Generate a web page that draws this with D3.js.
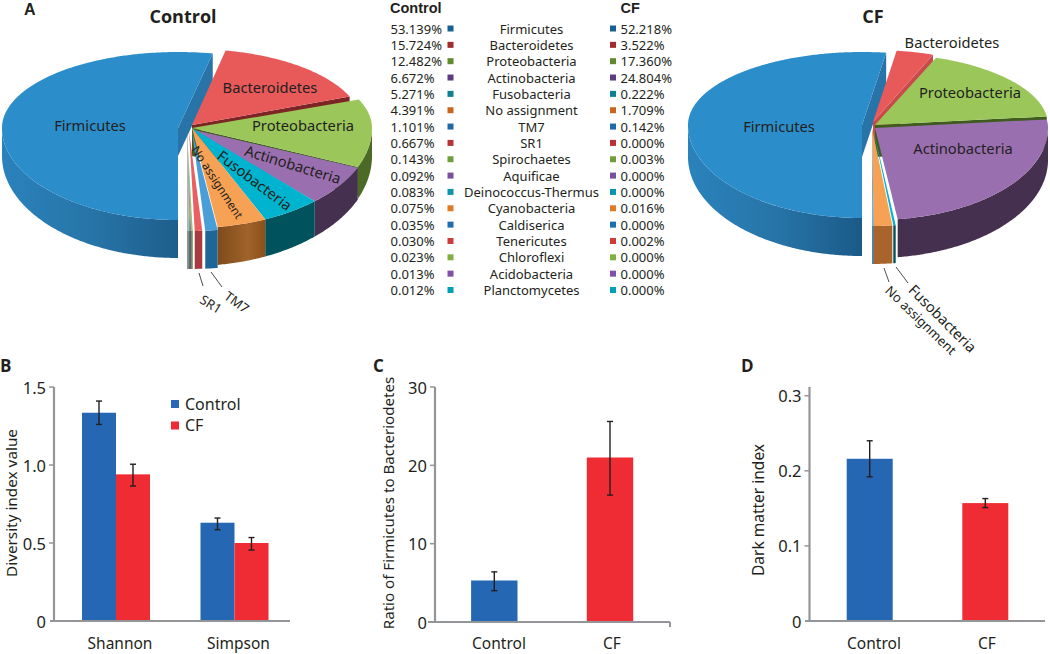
<!DOCTYPE html>
<html><head><meta charset="utf-8">
<script src="https://cdn.jsdelivr.net/npm/d3@7"></script>
<style>
html,body{margin:0;padding:0;background:#fff}
svg{display:block}
text{font-family:"Noto Sans",sans-serif;fill:#231f20}
</style></head><body>
<svg id="chart" width="1050" height="654"></svg>
<script>
// ---------- data ----------
const taxa = ["Firmicutes","Bacteroidetes","Proteobacteria","Actinobacteria","Fusobacteria","No assignment","TM7","SR1","Spirochaetes","Aquificae","Deinococcus-Thermus","Cyanobacteria","Caldiserica","Tenericutes","Chloroflexi","Acidobacteria","Planctomycetes"];
const controlPct = [53.139,15.724,12.482,6.672,5.271,4.391,1.101,0.667,0.143,0.092,0.083,0.075,0.035,0.030,0.023,0.013,0.012];
const cfPct = [52.218,3.522,17.360,24.804,0.222,1.709,0.142,0.000,0.003,0.000,0.000,0.016,0.000,0.002,0.000,0.000,0.000];
const markerColors = ["#17608f","#a02b30","#5e8a30","#5e3a80","#0f8090","#c8661e","#1d6aa5","#b83236","#6f9e3a","#7a509c","#0e94a8","#e07a24","#1f6eb0","#cc3a3a","#82b040","#8050a5","#00a0b8"];
const topColors = ["#2b8ecb","#e85a5a","#9bc75a","#9a6fb0","#00b4cf","#f7a154","#4a9ed8","#ea5f62","#9bc75a","#9a6fb0","#20b0c8","#f7a154","#4a9ed8","#e85a5a","#9bc75a","#9a6fb0","#00b4cf"];
const wallColors = ["#236e9f","#7d2424","#4b6a26","#46304f","#00525c","#8d5220","#1f6596","#a83a40","#6a8a3a","#6a4a80","#107080","#a06a30","#1f6596","#a83a40","#6a8a3a","#6a4a80","#107080"];

const diversityGroups = ["Shannon","Simpson"];
const diversitySeries = ["Control","CF"];
const diversityControl = [1.335,0.63];
const diversityControlLow = [1.26,0.585];
const diversityControlHigh = [1.41,0.66];
const diversityCF = [0.94,0.50];
const diversityCFLow = [0.865,0.455];
const diversityCFHigh = [1.005,0.535];
const diversityTicks = [0,0.5,1.0,1.5];
const diversityTickLabels = ["0","0.5","1.0","1.5"];

const groupNames = ["Control","CF"];
const ratioValues = [5.3,21];
const ratioLow = [4.0,16.2];
const ratioHigh = [6.4,25.6];
const ratioTicks = [0,10,20,30];

const darkValues = [0.216,0.157];
const darkLow = [0.192,0.151];
const darkHigh = [0.24,0.163];
const darkTicks = [0,0.1,0.2,0.3];
const darkTickLabels = ["0","0.1","0.2","0.3"];

// ---------- helpers ----------
const svg = d3.select("#chart");
const INK = "#231f20", AXIS = "#939598", BLUE = "#2567b3", RED = "#ef2b33";
const defs = svg.append("defs");
function addGrad(id, x1, x2, stops){
  const g = defs.append("linearGradient").attr("id",id).attr("gradientUnits","userSpaceOnUse")
    .attr("x1",x1).attr("x2",x2).attr("y1",0).attr("y2",0);
  stops.forEach(s=>g.append("stop").attr("offset",s[0]).attr("stop-color",s[1]));
}
const lineGen = d3.line();

function drawPie(cfg){
  const g = svg.append("g");
  const arcs = d3.pie().sort(null).startAngle(Math.PI).endAngle(3*Math.PI)(cfg.values);
  arcs.forEach((a,i)=>{
    if(a.value<=0) return;
    const name = taxa[i];
    const o = Object.assign({dx:0,dy:0,rx:cfg.rx,ryT:cfg.ryT,ryB:cfg.ryB}, cfg.slice[name]||(i>7?cfg.tiny:{})||{});
    const cx = cfg.cx+o.dx, cy = cfg.cy+o.dy;
    const dp = t => cfg.dBack + (cfg.dFront-cfg.dBack)*Math.max(0,-Math.cos(t));
    const pt = t => [cx+o.rx*Math.sin(t), cy-(Math.cos(t)>0?o.ryT:o.ryB)*Math.cos(t)];
    const n = Math.max(2,Math.ceil((a.endAngle-a.startAngle)/0.01));
    const ang = d3.range(n+1).map(k=>a.startAngle+(a.endAngle-a.startAngle)*k/n);
    // radial face of the slice's far edge
    const e = a.endAngle, pe = pt(e), de = cfg.dBack+(o.faceExtra||0);
    if(Math.sin(e)>0 && Math.cos(e)>-0.6 || name==="Firmicutes"){
      g.append("path").attr("d",lineGen([[cx,cy],pe,[pe[0],pe[1]+de],[cx,cy+de]])+"Z")
        .attr("fill",cfg.face[name]||wallColors[i]);
    }
    // outer wall, only the front half of the rim
    const lo = Math.max(a.startAngle,Math.PI/2), hi = Math.min(a.endAngle,Math.PI*1.5);
    const lo2 = Math.max(a.startAngle,Math.PI/2+2*Math.PI), hi2 = Math.min(a.endAngle,Math.PI*1.5+2*Math.PI);
    [[lo,hi],[lo2,hi2]].forEach(([l,h])=>{
      if(h<=l) return;
      const m = Math.max(2,Math.ceil((h-l)/0.01));
      const th = d3.range(m+1).map(k=>l+(h-l)*k/m);
      const up = th.map(pt), down = th.map(t=>{const p=pt(t);return [p[0],p[1]+dp(t)];}).reverse();
      g.append("path").attr("d",lineGen(up.concat(down))+"Z")
        .attr("fill",(cfg.wall&&cfg.wall[name])||wallColors[i]);
    });
    // top surface
    const pts = [[cx,cy]].concat(ang.map(pt));
    g.append("path").attr("d",lineGen(pts)+"Z").attr("fill",topColors[i]);
  });
  cfg.labels.forEach(l=>{
    g.append("text").attr("transform",`translate(${l.x},${l.y}) rotate(${l.r||0})`)
      .attr("text-anchor","middle").attr("dominant-baseline","central")
      .attr("font-size",l.s).text(l.t);
  });
  cfg.leaders.forEach(l=>{
    g.append("path").attr("d",lineGen([[l[0],l[1]],[l[2],l[3]]])).attr("stroke",INK).attr("stroke-width",0.8).attr("fill","none");
  });
}

addGrad("wallC",2,178,[[0,"#2a82bc"],[0.5,"#2775a8"],[1,"#1d5e8c"]]);
addGrad("wallF",688,862,[[0,"#2a82bc"],[0.5,"#2775a8"],[1,"#1a5a88"]]);
addGrad("wallN",217,268,[[0,"#7e4a1a"],[0.6,"#a0632a"],[1,"#8a4c18"]]);

// ---------- A: control pie ----------
drawPie({
  values:controlPct, cx:192, cy:128, rx:180, ryT:76, ryB:100, dBack:28, dFront:38,
  slice:{Firmicutes:{dx:-14,rx:176,ryB:92},Bacteroidetes:{dy:-3,rx:170,faceExtra:-22},Actinobacteria:{dy:1.5,ryB:98},TM7:{dy:3},SR1:{dx:-3,dy:3}},
  tiny:{dx:-5,dy:3},
  face:{Firmicutes:"#2874a8",Bacteroidetes:"#7d2424",Proteobacteria:"#3f5c1e",Actinobacteria:"#46304f",Fusobacteria:"#00525c"},
  wall:{Firmicutes:"url(#wallC)","No assignment":"url(#wallN)"},
  labels:[
    {t:"Firmicutes",x:90,y:125,s:14.7},
    {t:"Bacteroidetes",x:270,y:87,s:14.7},
    {t:"Proteobacteria",x:303,y:125,s:14.7},
    {t:"Actinobacteria",x:293,y:164,r:17,s:14.7},
    {t:"Fusobacteria",x:255,y:180,r:37,s:14.7},
    {t:"No assignment",x:218,y:182,r:57,s:11.8},
    {t:"TM7",x:237,y:302,r:36,s:13},
    {t:"SR1",x:211,y:304,r:32,s:13}
  ],
  leaders:[[199,273,203,286],[211,272,222,287]]
});

// ---------- A: CF pie ----------
drawPie({
  values:cfPct, cx:875, cy:125, rx:173, ryT:72, ryB:98, dBack:32, dFront:38,
  slice:{Firmicutes:{dx:-13,rx:174,ryT:73,ryB:93},Bacteroidetes:{dx:-2,dy:-3,rx:170},Actinobacteria:{dy:3,ryB:92},"No assignment":{dx:-3,dy:3},Fusobacteria:{dy:3,dx:-2},TM7:{dx:-3,dy:3}},
  tiny:{dx:-3,dy:3},
  face:{Firmicutes:"#2874a8",Bacteroidetes:"#c84a4a",Proteobacteria:"#3f5c1e",Actinobacteria:"#46304f"},
  wall:{Firmicutes:"url(#wallF)","No assignment":"#a8642a"},
  labels:[
    {t:"Firmicutes",x:779,y:126,s:14.7},
    {t:"Bacteroidetes",x:952,y:42,s:14.7},
    {t:"Proteobacteria",x:970,y:92,s:14.7},
    {t:"Actinobacteria",x:963,y:148,s:14.7},
    {t:"Fusobacteria",x:943,y:318,r:45,s:14.7},
    {t:"No assignment",x:921,y:320,r:44,s:13}
  ],
  leaders:[[896,267,908,283],[884,268,889,282]]
});

// ---------- panel letters & titles ----------
function bold(t,x,y,s,anchor,face){
  svg.append("text").attr("x",x).attr("y",y).attr("font-size",s).attr("font-weight",700)
    .attr("text-anchor",anchor||"start").style("font-family",face||"'Open Sans',sans-serif").text(t);
}
const SANS = "'Liberation Sans',sans-serif";
bold("A",24,15,16,"start",SANS); bold("B",0,372,17); bold("C",373,372,17); bold("D",741,372,17);
bold("Control",183,23,18,"middle"); bold("CF",873,23,18,"middle");

// ---------- table ----------
const rowY = d3.scalePoint().domain(taxa).range([28.5,290]);
const table = svg.append("g");
bold("Control",390,13.3,14.5,"start",SANS); bold("CF",620.5,13.3,14.5,"start",SANS);
const fmt = d3.format(".3f");
taxa.forEach((t,i)=>{
  const y = rowY(t);
  table.append("text").attr("x",390.5).attr("y",y).attr("dominant-baseline","central").attr("font-size",13).text(fmt(controlPct[i])+"%");
  table.append("rect").attr("x",447.5).attr("y",y-3).attr("width",6).attr("height",6).attr("fill",markerColors[i]);
  table.append("text").attr("x",531.5).attr("y",y).attr("text-anchor","middle").attr("dominant-baseline","central").attr("font-size",13).text(t);
  table.append("rect").attr("x",610).attr("y",y-3).attr("width",6).attr("height",6).attr("fill",markerColors[i]);
  table.append("text").attr("x",620.5).attr("y",y).attr("dominant-baseline","central").attr("font-size",13).text(fmt(cfPct[i])+"%");
});

// ---------- bar helpers ----------
function yAxis(x, y, ticks, labels, x2, x0, topY, bottomY){
  const g = svg.append("g");
  g.append("path").attr("d",lineGen([[x,topY],[x,bottomY]])).attr("stroke",AXIS).attr("stroke-width",2.2).attr("fill","none");
  g.append("path").attr("d",lineGen([[x0,bottomY],[x2,bottomY]])).attr("stroke",AXIS).attr("stroke-width",2.2).attr("fill","none");
  ticks.forEach((v,i)=>{
    if(v!==ticks[0]) g.append("path").attr("d",lineGen([[x-5,y(v)],[x,y(v)]])).attr("stroke",AXIS).attr("stroke-width",1.5);
    g.append("text").attr("x",x-8).attr("y",y(v)).attr("text-anchor","end").attr("dominant-baseline","central").attr("font-size",16.5).text(labels[i]);
  });
}
function errBar(cx,y,lo,hi){
  const g = svg.append("g").attr("stroke",INK).attr("stroke-width",1.4).attr("fill","none");
  g.append("path").attr("d",lineGen([[cx,y(lo)],[cx,y(hi)]]));
  g.append("path").attr("d",lineGen([[cx-3,y(lo)],[cx+3,y(lo)]]));
  g.append("path").attr("d",lineGen([[cx-3,y(hi)],[cx+3,y(hi)]]));
}
function yTitle(t,x,y,s){
  svg.append("text").attr("transform",`translate(${x},${y}) rotate(-90)`).attr("text-anchor","middle")
    .attr("dominant-baseline","central").attr("font-size",s).text(t);
}
function xLabel(t,x){
  svg.append("text").attr("x",x).attr("y",649.4).attr("text-anchor","middle").attr("font-size",15.5).text(t);
}

// ---------- B ----------
const yB = d3.scaleLinear().domain([0,1.5]).range([621,387]);
const xB = d3.scaleBand().domain(diversityGroups).range([56.75,293.75]);
const xBi = d3.scaleBand().domain(diversitySeries).range([-34,34]);
diversityGroups.forEach((g,i)=>{
  const c = xB(g)+xB.bandwidth()/2;
  [[diversityControl,diversityControlLow,diversityControlHigh,"Control",BLUE],[diversityCF,diversityCFLow,diversityCFHigh,"CF",RED]].forEach(([v,lo,hi,s,col])=>{
    svg.append("rect").attr("x",c+xBi(s)).attr("width",xBi.bandwidth()).attr("y",yB(v[i])).attr("height",yB(0)-yB(v[i])).attr("fill",col);
    errBar(c+xBi(s)+xBi.bandwidth()/2,yB,lo[i],hi[i]);
  });
  xLabel(g,c+4);
});
yAxis(54,yB,diversityTicks,diversityTickLabels,290,50,387,621);
yTitle("Diversity index value",10.5,503,15.3);
diversitySeries.forEach((s,i)=>{
  const ly = 404+i*21.5;
  svg.append("rect").attr("x",171).attr("y",ly-4).attr("width",8).attr("height",8).attr("fill",i?RED:BLUE);
  svg.append("text").attr("x",185).attr("y",ly-0.5).attr("dominant-baseline","central").attr("font-size",16).text(s);
});

// ---------- C ----------
const yC = d3.scaleLinear().domain([0,30]).range([622,387]);
const xCp = d3.scalePoint().domain(groupNames).range([494.3,610]);
groupNames.forEach((n,i)=>{
  const c = xCp(n);
  svg.append("rect").attr("x",c-23.2).attr("width",46.4).attr("y",yC(ratioValues[i])).attr("height",yC(0)-yC(ratioValues[i])).attr("fill",i?RED:BLUE);
  errBar(c,yC,ratioLow[i],ratioHigh[i]);
  xLabel(n,[499,612][i]);
});
yAxis(435,yC,ratioTicks,ratioTicks.map(String),670,428,387,622);
svg.append("path").attr("d",lineGen([[670,622],[670,627]])).attr("stroke",AXIS).attr("stroke-width",2);
yTitle("Ratio of Firmicutes to Bacteriodetes",388,503,15.1);

// ---------- D ----------
const yD = d3.scaleLinear().domain([0,0.3]).range([621,395.7]);
const xDp = d3.scalePoint().domain(groupNames).range([869.7,985.3]);
groupNames.forEach((n,i)=>{
  const c = xDp(n);
  svg.append("rect").attr("x",c-23).attr("width",46).attr("y",yD(darkValues[i])).attr("height",yD(0)-yD(darkValues[i])).attr("fill",i?RED:BLUE);
  errBar(c,yD,darkLow[i],darkHigh[i]);
  xLabel(n,[874,987][i]);
});
yAxis(809.5,yD,darkTicks,darkTickLabels,1045,805,387,621);
yTitle("Dark matter index",758,510,15.5);
</script>
</body></html>
